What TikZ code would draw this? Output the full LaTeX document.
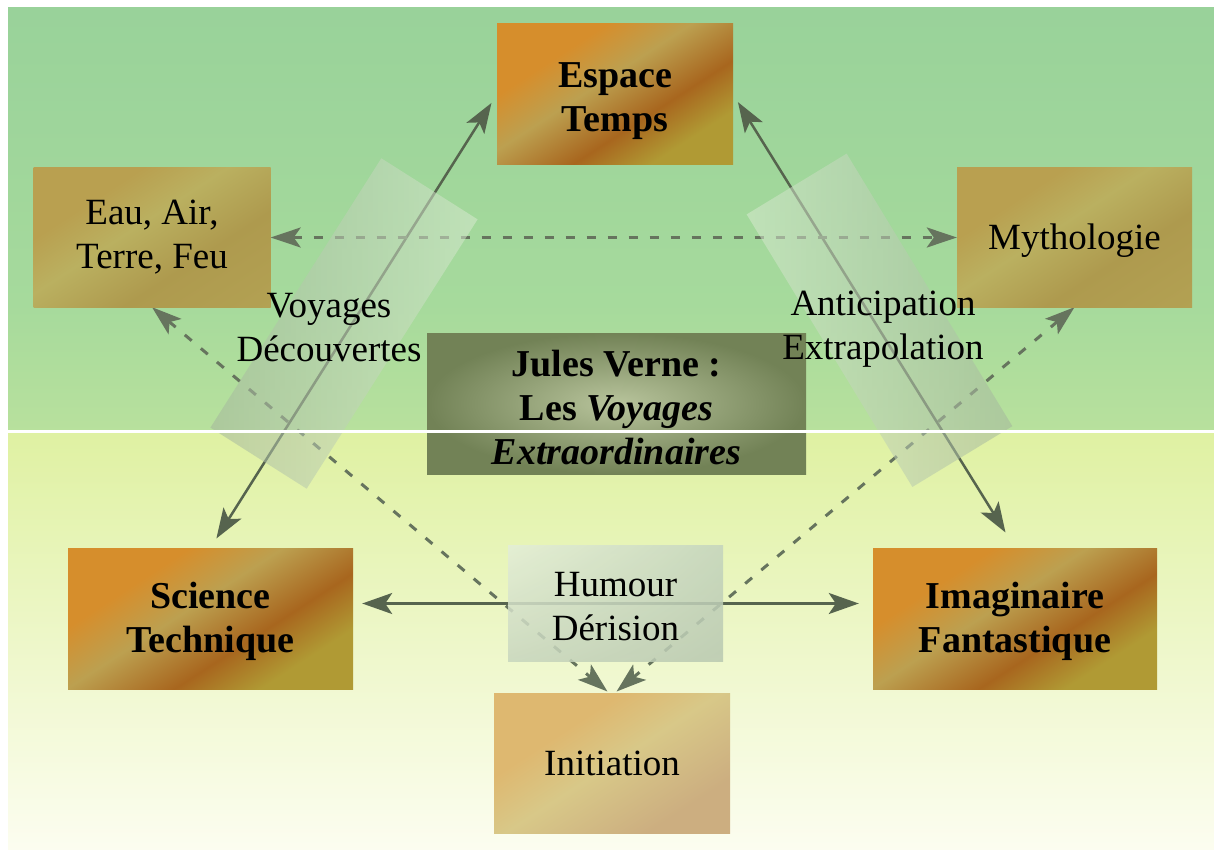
\documentclass[tikz,border=0pt]{standalone}
\usepackage{fontspec}
\setmainfont{Liberation Serif}
\usetikzlibrary{arrows.meta,positioning,shadings}

\definecolor{arrowgreen}{HTML}{56644E}
\definecolor{dashgreen}{HTML}{66745E}
\definecolor{copA}{HTML}{D68E2C}
\definecolor{copB}{HTML}{BCA050}
\definecolor{copC}{HTML}{A8661E}
\definecolor{copD}{HTML}{B09A34}
\definecolor{oliA}{HTML}{B9A050}
\definecolor{oliB}{HTML}{BAB060}
\definecolor{oliC}{HTML}{AE9A4E}
\definecolor{oliD}{HTML}{B6A656}
\definecolor{tanA}{HTML}{DEB870}
\definecolor{tanB}{HTML}{D8C888}
\definecolor{tanC}{HTML}{CCAE80}
\definecolor{skyA}{HTML}{8DB892}
\definecolor{skyB}{HTML}{99D29A}
\definecolor{skyC}{HTML}{A6DA9C}
\definecolor{skyD}{HTML}{D6EC9E}

\pgfdeclarehorizontalshading{copper}{100bp}{color(0bp)=(copA); color(32bp)=(copA); color(45bp)=(copB); color(60bp)=(copC); color(72bp)=(copD); color(100bp)=(copD)}
\pgfdeclarehorizontalshading{olive}{100bp}{color(0bp)=(oliA); color(32bp)=(oliA); color(45bp)=(oliB); color(62bp)=(oliC); color(100bp)=(oliD)}
\pgfdeclarehorizontalshading{tan}{100bp}{color(0bp)=(tanA); color(35bp)=(tanA); color(50bp)=(tanB); color(72bp)=(tanC); color(100bp)=(tanC)}
\pgfdeclareverticalshading{sky}{100bp}{color(0bp)=(skyD); color(40bp)=(skyC); color(75bp)=(skyB); color(92bp)=(skyA); color(100bp)=(skyA)}

\pgfdeclarelayer{back}
\pgfdeclarelayer{lines}
\pgfdeclarelayer{front}
\pgfsetlayers{back,lines,main,front}

\newcommand\dn[2][3pt]{\raisebox{-#1}[\height][\depth]{#2}}

\tikzset{
  box/.style={inner sep=0pt, align=center, font=\fontsize{37}{44}\selectfont},
  boldbox/.style={box, font=\bfseries\fontsize{38}{44}\selectfont},
  strongbox/.style={boldbox, minimum width=236pt, minimum height=141pt, shade, shading=copper, shading angle=-57},
  mildbox/.style={box, minimum width=237pt, minimum height=139pt, shade, shading=olive, shading angle=-57},
  band/.style={inner sep=0pt, minimum width=319pt, minimum height=114pt, fill opacity=0.55},
  link/.style={draw=arrowgreen, line width=2.5pt,
    {Stealth[length=30pt,width=21pt,inset=7pt]}-{Stealth[length=30pt,width=21pt,inset=7pt]}},
  dashlink/.style={draw=dashgreen, line width=3pt, dash pattern=on 9pt off 12pt,
    {Stealth[length=30pt,width=20pt,inset=7pt]}-{Stealth[length=30pt,width=20pt,inset=7pt]}}
}

\begin{document}
\begin{tikzpicture}[x=1pt,y=-1pt]
\useasboundingbox (0,0) rectangle (1214,850);

\begin{pgfonlayer}{back}
\shade[shading=sky] (8,8) rectangle (1214,431);
\shade[top color={rgb,255:red,223;green,241;blue,162}, middle color={rgb,255:red,238;green,247;blue,198},
  bottom color={rgb,255:red,252;green,253;blue,240}] (8,431) rectangle (1214,850);
\end{pgfonlayer}

\node[strongbox] (esp) at (615,94.5) {\dn[7pt]{Espace}\\\dn[7pt]{Temps}};
\node[mildbox] (eau) at (152,237.5) {Eau, Air,\\Terre, Feu};
\node[mildbox, minimum width=235pt] (myth) at (1074.5,237.5) {\dn{Mythologie}};
\node[boldbox, minimum width=379pt, minimum height=141pt,
  inner color={rgb,255:red,184;green,196;blue,156}, outer color={rgb,255:red,114;green,130;blue,86}] (jv) at (616.5,403.5)
  {\dn[4pt]{Jules Verne :}\\\dn[4pt]{Les \textit{Voyages}}\\\dn[4pt]{\textit{Extraordinaires}}};
\node[strongbox, minimum width=285pt] (sci) at (210.5,618.5) {\dn{Science}\\\dn{Technique}};
\node[strongbox, minimum width=284pt] (imag) at (1015,618.5) {\dn{Imaginaire}\\\dn{Fantastique}};
\node[box, minimum width=236pt, minimum height=140pt, shade, shading=tan, shading angle=-57] (init) at (612,763) {Initiation};

% bands
\node[band, rotate=57.6, left color={rgb,255:red,164;green,182;blue,156}, right color={rgb,255:red,216;green,234;blue,208}] (bandL) at (344,323.5) {};
\node[band, minimum height=117pt, rotate=-58.7, left color={rgb,255:red,216;green,234;blue,208}, right color={rgb,255:red,164;green,182;blue,156}] (bandR) at (879.5,320.3) {};
\node[box] (voy) at (329,328) {Voyages\\Découvertes};
\node[box] (anti) at (883,329) {Anticipation\\Extrapolation};

\node[box, minimum width=215pt, minimum height=116pt, fill opacity=0.85, text opacity=1,
  upper left={rgb,255:red,228;green,238;blue,216}, upper right={rgb,255:red,196;green,212;blue,190},
  lower left={rgb,255:red,200;green,214;blue,190}, lower right={rgb,255:red,184;green,200;blue,176}] (hum) at (615.5,603) {\dn[4pt]{Humour}\\\dn[4pt]{Dérision}};

\begin{pgfonlayer}{lines}
\draw[link, shorten <=11pt, shorten >=10pt] (sci.north) -- (esp.west);
\draw[link, shorten <=18pt, shorten >=9pt] (imag.north) -- (esp.east);
\draw[link, shorten <=9pt, shorten >=14pt] ([yshift=15pt]sci.east) -- ([yshift=15pt]imag.west);
\draw[dashlink] (eau.east) -- (myth.west);
\draw[dashlink, shorten >=2pt] (eau.south) -- ([xshift=-3pt]init.north);
\draw[dashlink, shorten >=2pt] (myth.south) -- ([xshift=3pt]init.north);
\end{pgfonlayer}

\begin{pgfonlayer}{front}
\fill[white] (8,429.5) rectangle (1214,432.5);
\end{pgfonlayer}
\end{tikzpicture}
\end{document}
